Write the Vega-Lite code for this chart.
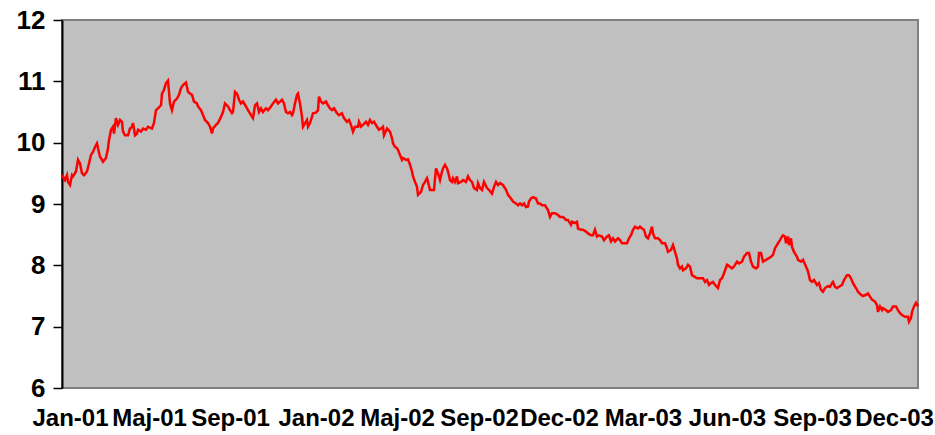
{
  "$schema": "https://vega.github.io/schema/vega-lite/v6.json",
  "width": 856,
  "height": 368,
  "autosize": "none",
  "padding": {"left": 62, "top": 20, "right": 17, "bottom": 47},
  "background": "white",
  "config": {
    "view": {"fill": "#C0C0C0", "stroke": "#808080", "strokeWidth": 2},
    "font": "Liberation Sans"
  },
  "data": {"values": [
    {"n":0,"v":9.42},{"n":1,"v":9.45},{"n":3,"v":9.39},{"n":5,"v":9.47},{"n":6,"v":9.36},{"n":8,"v":9.31},{"n":10,"v":9.47},{"n":11,"v":9.45},{"n":14,"v":9.53},{"n":16,"v":9.72},{"n":18,"v":9.66},{"n":20,"v":9.50},{"n":22,"v":9.47},{"n":25,"v":9.53},{"n":27,"v":9.66},{"n":29,"v":9.80},{"n":31,"v":9.85},{"n":33,"v":9.93},{"n":35,"v":9.99},{"n":36,"v":9.91},{"n":38,"v":9.77},{"n":40,"v":9.72},{"n":41,"v":9.69},{"n":44,"v":9.75},{"n":46,"v":9.91},{"n":47,"v":10.04},{"n":49,"v":10.21},{"n":51,"v":10.26},{"n":52,"v":10.15},{"n":54,"v":10.40},{"n":56,"v":10.29},{"n":58,"v":10.37},{"n":60,"v":10.34},{"n":61,"v":10.18},{"n":63,"v":10.12},{"n":66,"v":10.12},{"n":68,"v":10.23},{"n":70,"v":10.26},{"n":71,"v":10.32},{"n":73,"v":10.12},{"n":75,"v":10.15},{"n":76,"v":10.21},{"n":79,"v":10.18},{"n":81,"v":10.23},{"n":84,"v":10.21},{"n":86,"v":10.26},{"n":90,"v":10.23},{"n":92,"v":10.32},{"n":94,"v":10.53},{"n":96,"v":10.56},{"n":99,"v":10.61},{"n":100,"v":10.80},{"n":102,"v":10.86},{"n":104,"v":10.97},{"n":106,"v":11.01},{"n":107,"v":10.83},{"n":108,"v":10.64},{"n":110,"v":10.53},{"n":112,"v":10.67},{"n":115,"v":10.72},{"n":117,"v":10.78},{"n":119,"v":10.89},{"n":121,"v":10.94},{"n":124,"v":10.98},{"n":126,"v":10.83},{"n":128,"v":10.80},{"n":130,"v":10.78},{"n":132,"v":10.67},{"n":135,"v":10.64},{"n":136,"v":10.59},{"n":139,"v":10.53},{"n":141,"v":10.45},{"n":143,"v":10.37},{"n":146,"v":10.32},{"n":148,"v":10.26},{"n":150,"v":10.15},{"n":151,"v":10.23},{"n":154,"v":10.29},{"n":156,"v":10.32},{"n":159,"v":10.42},{"n":161,"v":10.50},{"n":163,"v":10.64},{"n":166,"v":10.59},{"n":168,"v":10.53},{"n":170,"v":10.48},{"n":171,"v":10.50},{"n":173,"v":10.83},{"n":175,"v":10.80},{"n":177,"v":10.70},{"n":179,"v":10.64},{"n":181,"v":10.67},{"n":184,"v":10.59},{"n":186,"v":10.53},{"n":189,"v":10.45},{"n":191,"v":10.40},{"n":193,"v":10.61},{"n":195,"v":10.64},{"n":197,"v":10.50},{"n":199,"v":10.56},{"n":201,"v":10.50},{"n":204,"v":10.56},{"n":206,"v":10.53},{"n":209,"v":10.59},{"n":211,"v":10.64},{"n":214,"v":10.70},{"n":216,"v":10.64},{"n":218,"v":10.67},{"n":220,"v":10.70},{"n":222,"v":10.64},{"n":224,"v":10.50},{"n":226,"v":10.48},{"n":228,"v":10.50},{"n":230,"v":10.45},{"n":231,"v":10.48},{"n":233,"v":10.64},{"n":235,"v":10.78},{"n":236,"v":10.80},{"n":238,"v":10.64},{"n":240,"v":10.42},{"n":241,"v":10.26},{"n":243,"v":10.32},{"n":245,"v":10.37},{"n":246,"v":10.26},{"n":248,"v":10.32},{"n":250,"v":10.42},{"n":251,"v":10.48},{"n":254,"v":10.49},{"n":256,"v":10.53},{"n":257,"v":10.75},{"n":259,"v":10.67},{"n":261,"v":10.64},{"n":264,"v":10.67},{"n":266,"v":10.61},{"n":268,"v":10.56},{"n":270,"v":10.53},{"n":272,"v":10.56},{"n":275,"v":10.48},{"n":277,"v":10.45},{"n":280,"v":10.48},{"n":282,"v":10.40},{"n":285,"v":10.34},{"n":287,"v":10.37},{"n":289,"v":10.29},{"n":291,"v":10.18},{"n":293,"v":10.26},{"n":296,"v":10.26},{"n":297,"v":10.34},{"n":299,"v":10.26},{"n":301,"v":10.29},{"n":304,"v":10.34},{"n":306,"v":10.29},{"n":308,"v":10.37},{"n":310,"v":10.32},{"n":312,"v":10.34},{"n":315,"v":10.26},{"n":317,"v":10.21},{"n":319,"v":10.23},{"n":321,"v":10.26},{"n":322,"v":10.12},{"n":325,"v":10.23},{"n":328,"v":10.18},{"n":330,"v":10.07},{"n":331,"v":9.99},{"n":333,"v":9.93},{"n":335,"v":9.91},{"n":336,"v":9.88},{"n":338,"v":9.80},{"n":340,"v":9.72},{"n":341,"v":9.75},{"n":344,"v":9.72},{"n":346,"v":9.73},{"n":348,"v":9.64},{"n":350,"v":9.53},{"n":351,"v":9.45},{"n":353,"v":9.36},{"n":355,"v":9.28},{"n":356,"v":9.15},{"n":359,"v":9.20},{"n":361,"v":9.31},{"n":363,"v":9.36},{"n":365,"v":9.42},{"n":366,"v":9.36},{"n":368,"v":9.23},{"n":370,"v":9.23},{"n":372,"v":9.23},{"n":374,"v":9.58},{"n":376,"v":9.50},{"n":378,"v":9.39},{"n":380,"v":9.53},{"n":381,"v":9.58},{"n":383,"v":9.64},{"n":385,"v":9.58},{"n":386,"v":9.53},{"n":388,"v":9.39},{"n":390,"v":9.36},{"n":391,"v":9.42},{"n":393,"v":9.36},{"n":395,"v":9.45},{"n":396,"v":9.34},{"n":399,"v":9.36},{"n":401,"v":9.39},{"n":404,"v":9.36},{"n":406,"v":9.45},{"n":408,"v":9.39},{"n":410,"v":9.36},{"n":412,"v":9.26},{"n":415,"v":9.23},{"n":416,"v":9.34},{"n":418,"v":9.26},{"n":420,"v":9.23},{"n":422,"v":9.36},{"n":425,"v":9.26},{"n":427,"v":9.23},{"n":430,"v":9.17},{"n":432,"v":9.28},{"n":434,"v":9.36},{"n":436,"v":9.31},{"n":438,"v":9.34},{"n":441,"v":9.31},{"n":444,"v":9.23},{"n":446,"v":9.15},{"n":449,"v":9.09},{"n":451,"v":9.04},{"n":454,"v":9.01},{"n":456,"v":8.98},{"n":458,"v":9.01},{"n":460,"v":8.98},{"n":462,"v":9.01},{"n":464,"v":8.95},{"n":466,"v":8.96},{"n":467,"v":9.04},{"n":469,"v":9.09},{"n":471,"v":9.11},{"n":474,"v":9.09},{"n":476,"v":9.01},{"n":478,"v":9.01},{"n":480,"v":8.98},{"n":483,"v":8.98},{"n":486,"v":8.90},{"n":488,"v":8.79},{"n":490,"v":8.85},{"n":493,"v":8.85},{"n":496,"v":8.82},{"n":498,"v":8.79},{"n":501,"v":8.79},{"n":504,"v":8.74},{"n":506,"v":8.74},{"n":509,"v":8.66},{"n":510,"v":8.71},{"n":513,"v":8.69},{"n":515,"v":8.71},{"n":516,"v":8.60},{"n":519,"v":8.58},{"n":521,"v":8.58},{"n":524,"v":8.55},{"n":526,"v":8.52},{"n":529,"v":8.49},{"n":531,"v":8.49},{"n":533,"v":8.58},{"n":535,"v":8.47},{"n":537,"v":8.49},{"n":540,"v":8.47},{"n":542,"v":8.41},{"n":545,"v":8.47},{"n":547,"v":8.49},{"n":549,"v":8.39},{"n":551,"v":8.44},{"n":553,"v":8.39},{"n":556,"v":8.44},{"n":558,"v":8.41},{"n":560,"v":8.36},{"n":562,"v":8.36},{"n":565,"v":8.36},{"n":567,"v":8.44},{"n":569,"v":8.49},{"n":571,"v":8.58},{"n":573,"v":8.63},{"n":576,"v":8.60},{"n":578,"v":8.63},{"n":580,"v":8.60},{"n":582,"v":8.58},{"n":584,"v":8.47},{"n":586,"v":8.44},{"n":588,"v":8.52},{"n":590,"v":8.63},{"n":591,"v":8.52},{"n":593,"v":8.44},{"n":596,"v":8.44},{"n":598,"v":8.41},{"n":600,"v":8.36},{"n":603,"v":8.36},{"n":605,"v":8.28},{"n":606,"v":8.22},{"n":609,"v":8.25},{"n":611,"v":8.33},{"n":613,"v":8.22},{"n":615,"v":8.11},{"n":616,"v":8.01},{"n":618,"v":7.95},{"n":620,"v":7.98},{"n":621,"v":7.92},{"n":624,"v":7.95},{"n":626,"v":8.01},{"n":628,"v":7.98},{"n":630,"v":7.84},{"n":632,"v":7.82},{"n":635,"v":7.79},{"n":638,"v":7.79},{"n":641,"v":7.79},{"n":643,"v":7.73},{"n":645,"v":7.76},{"n":647,"v":7.68},{"n":649,"v":7.71},{"n":651,"v":7.73},{"n":653,"v":7.68},{"n":656,"v":7.63},{"n":658,"v":7.76},{"n":660,"v":7.79},{"n":662,"v":7.87},{"n":665,"v":8.01},{"n":667,"v":7.99},{"n":670,"v":7.95},{"n":672,"v":7.98},{"n":675,"v":8.06},{"n":677,"v":8.03},{"n":680,"v":8.06},{"n":682,"v":8.14},{"n":685,"v":8.20},{"n":687,"v":8.20},{"n":689,"v":8.06},{"n":691,"v":7.98},{"n":694,"v":7.95},{"n":696,"v":7.98},{"n":697,"v":8.20},{"n":699,"v":8.20},{"n":701,"v":8.06},{"n":704,"v":8.09},{"n":706,"v":8.11},{"n":709,"v":8.14},{"n":711,"v":8.17},{"n":713,"v":8.28},{"n":716,"v":8.36},{"n":718,"v":8.41},{"n":720,"v":8.47},{"n":721,"v":8.49},{"n":723,"v":8.47},{"n":724,"v":8.36},{"n":726,"v":8.47},{"n":727,"v":8.33},{"n":729,"v":8.44},{"n":730,"v":8.30},{"n":732,"v":8.22},{"n":735,"v":8.14},{"n":736,"v":8.09},{"n":739,"v":8.06},{"n":741,"v":8.09},{"n":744,"v":7.98},{"n":746,"v":7.90},{"n":748,"v":7.76},{"n":750,"v":7.73},{"n":752,"v":7.76},{"n":755,"v":7.68},{"n":757,"v":7.71},{"n":759,"v":7.60},{"n":761,"v":7.57},{"n":763,"v":7.63},{"n":766,"v":7.66},{"n":768,"v":7.65},{"n":770,"v":7.71},{"n":771,"v":7.73},{"n":773,"v":7.65},{"n":775,"v":7.63},{"n":777,"v":7.65},{"n":780,"v":7.68},{"n":782,"v":7.76},{"n":785,"v":7.84},{"n":787,"v":7.84},{"n":789,"v":7.79},{"n":791,"v":7.71},{"n":794,"v":7.63},{"n":796,"v":7.57},{"n":799,"v":7.52},{"n":801,"v":7.50},{"n":804,"v":7.52},{"n":806,"v":7.54},{"n":808,"v":7.49},{"n":810,"v":7.44},{"n":813,"v":7.41},{"n":815,"v":7.35},{"n":816,"v":7.24},{"n":818,"v":7.33},{"n":820,"v":7.27},{"n":821,"v":7.30},{"n":824,"v":7.27},{"n":826,"v":7.24},{"n":829,"v":7.27},{"n":831,"v":7.33},{"n":834,"v":7.33},{"n":836,"v":7.27},{"n":838,"v":7.22},{"n":840,"v":7.19},{"n":843,"v":7.16},{"n":846,"v":7.16},{"n":847,"v":7.08},{"n":849,"v":7.14},{"n":850,"v":7.24},{"n":852,"v":7.33},{"n":854,"v":7.39},{"n":856,"v":7.33}
  ]},
  "mark": {"type": "line", "color": "#FF0000", "strokeWidth": 2.5, "interpolate": "linear"},
  "encoding": {
    "x": {
      "field": "n", "type": "quantitative",
      "scale": {"domain": [0, 856], "nice": false, "zero": false},
      "axis": {
        "title": null, "grid": false, "domain": false, "ticks": false,
        "values": [8, 87, 168, 254, 335, 417, 497, 581, 665, 750, 832],
        "labelExpr": "['Jan-01','Maj-01','Sep-01','Jan-02','Maj-02','Sep-02','Dec-02','Mar-03','Jun-03','Sep-03','Dec-03'][indexof([8, 87, 168, 254, 335, 417, 497, 581, 665, 750, 832], datum.value)]",
        "labelFont": "Liberation Sans", "labelFontWeight": "bold", "labelFontSize": 24,
        "labelColor": "#000000", "labelPadding": 18, "labelOverlap": false, "labelFlush": false, "labelBound": false
      }
    },
    "y": {
      "field": "v", "type": "quantitative",
      "scale": {"domain": [6, 12], "nice": false, "zero": false},
      "axis": {
        "title": null, "grid": false,
        "values": [6, 7, 8, 9, 10, 11, 12],
        "domainColor": "#000000", "domainWidth": 2,
        "tickColor": "#000000", "tickWidth": 1.5, "tickSize": 9,
        "labelFont": "Liberation Sans", "labelFontWeight": "bold", "labelFontSize": 26,
        "labelColor": "#000000", "labelPadding": 8, "labelOverlap": false, "labelFlush": false
      }
    }
  }
}
